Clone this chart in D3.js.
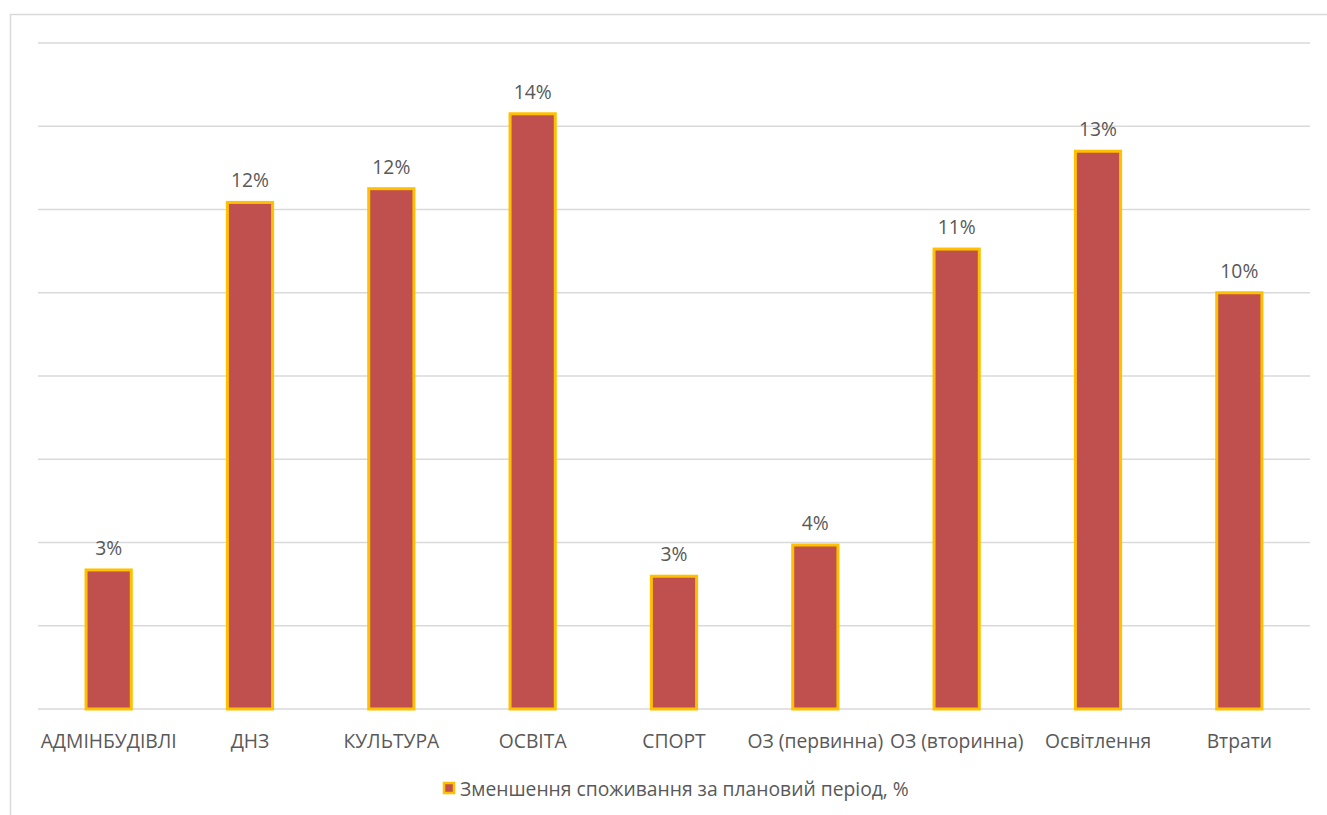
<!DOCTYPE html>
<html><head><meta charset="utf-8">
<script src="https://cdn.jsdelivr.net/npm/d3@7"></script>
<style>body{margin:0;background:#fff}svg{display:block}</style>
</head><body>
<svg id="c" width="1327" height="815"></svg>
<script>
const categories = ["АДМІНБУДІВЛІ","ДНЗ","КУЛЬТУРА","ОСВІТА","СПОРТ","ОЗ (первинна)","ОЗ (вторинна)","Освітлення","Втрати"];
const values = [3.34, 12.17, 12.5, 14.3, 3.19, 3.94, 11.05, 13.4, 10.0];
const labels = ["3%","12%","12%","14%","3%","4%","11%","13%","10%"];
const gridTicks = [0,2,4,6,8,10,12,14,16];
const seriesName = "Зменшення споживання за плановий період, %";

const svg = d3.select("#c");
const font = "'Open Sans', 'Noto Sans', sans-serif";
const fs = 19.3;
const txt = "#595959";
const L=38, R=1310, T=43, B=709;

// frame
svg.append("path").attr("d","M10.5,815 L10.5,14.5 L1327,14.5").attr("fill","none").attr("stroke","#d9d9d9").attr("stroke-width",1.5);

const x = d3.scaleBand().domain(categories).range([L,R]).paddingInner(0.68).paddingOuter(0.34);
const y = d3.scaleLinear().domain([0,16]).range([B,T]);

svg.append("g").selectAll("line").data(gridTicks).join("line")
  .attr("x1",L).attr("x2",R).attr("y1",d=>y(d)).attr("y2",d=>y(d))
  .attr("stroke","#d9d9d9").attr("stroke-width",1.5);

svg.append("g").selectAll("rect").data(values).join("rect")
  .attr("x",(d,i)=>x(categories[i])).attr("width",x.bandwidth())
  .attr("y",d=>y(d)).attr("height",d=>y(0)-y(d))
  .attr("fill","#c0504d").attr("stroke","#ffc000").attr("stroke-width",3);

svg.append("g").selectAll("text").data(values).join("text")
  .attr("x",(d,i)=>x(categories[i])+x.bandwidth()/2).attr("y",d=>y(d)-15)
  .attr("text-anchor","middle").attr("font-family",font).attr("font-size",fs).attr("fill",txt)
  .text((d,i)=>labels[i]);

const xa = svg.append("g").attr("transform",`translate(0,${B})`).call(d3.axisBottom(x).tickSize(0).tickPadding(0));
xa.select(".domain").remove();
xa.selectAll("text").attr("y",39).attr("dy",0).attr("font-family",font).attr("font-size",fs).attr("fill",txt);

const lg = svg.append("g");
lg.append("rect").attr("x",444).attr("y",783).attr("width",10).attr("height",10).attr("fill","#c0504d").attr("stroke","#ffc000").attr("stroke-width",2.5);
lg.append("text").attr("x",460).attr("y",796).attr("font-family",font).attr("font-size",fs).attr("fill",txt).text(seriesName);
</script>
</body></html>
